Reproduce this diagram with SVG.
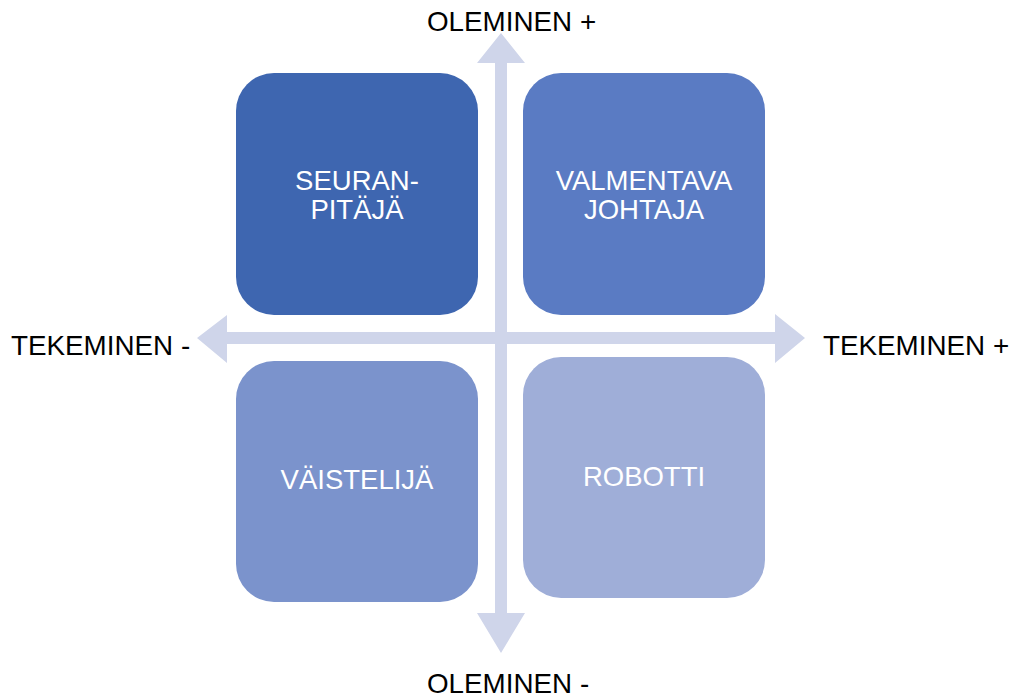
<svg xmlns="http://www.w3.org/2000/svg" width="1014" height="698" viewBox="0 0 1014 698">
<style>
.box{stroke:none}
.lbl{font-family:"Liberation Sans",Arial,sans-serif;font-size:27.5px;fill:#ffffff;text-anchor:middle}
.axis{font-family:"Liberation Sans",Arial,sans-serif;font-size:27.8px;fill:#000000}
.arr{fill:#CFD5EA}
</style>
<rect width="1014" height="698" fill="#ffffff"/>
<g id="connectors">
<polygon class="arr" points="501,33 525,63 507,63 507,332 775,332 775,314 805,338 775,363 775,344 507,344 507,613 525,613 501,653 477,613 495,613 495,344 227,344 227,363 197,338 227,315 227,332 495,332 495,63 477,63"/>
</g>
<g id="node-seuranpitaja">
<rect class="box" x="236" y="73" width="242" height="242" rx="38" fill="#3E66B0"/>
<text class="lbl" x="357" y="190">SEURAN-</text>
<text class="lbl" x="357" y="219">PITÄJÄ</text>
</g>
<g id="node-valmentava">
<rect class="box" x="523" y="73" width="242" height="242" rx="38" fill="#5A7BC3"/>
<text class="lbl" x="644" y="190">VALMENTAVA</text>
<text class="lbl" x="644" y="219">JOHTAJA</text>
</g>
<g id="node-vaistelija">
<rect class="box" x="236" y="361" width="242" height="241" rx="38" fill="#7B93CC"/>
<text class="lbl" x="357" y="489">VÄISTELIJÄ</text>
</g>
<g id="node-robotti">
<rect class="box" x="523" y="357" width="242" height="241" rx="38" fill="#9FAED8"/>
<text class="lbl" x="644" y="486">ROBOTTI</text>
</g>
<g id="axis-labels">
<text class="axis" x="427" y="31">OLEMINEN +</text>
<text class="axis" x="427" y="693">OLEMINEN -</text>
<text class="axis" x="11" y="355">TEKEMINEN -</text>
<text class="axis" x="823" y="355">TEKEMINEN +</text>
</g>
</svg>
